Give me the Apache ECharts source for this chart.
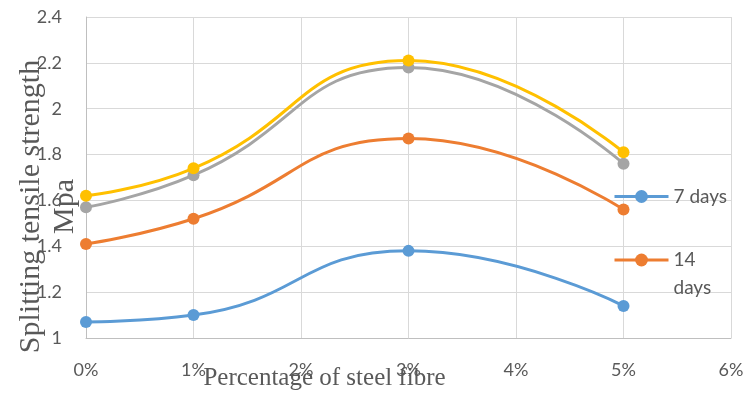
<!DOCTYPE html>
<html>
<head>
<meta charset="utf-8">
<script src="https://cdn.jsdelivr.net/npm/echarts@6/dist/echarts.min.js"></script>
<style>
  html, body { margin: 0; padding: 0; background: #fff; }
  #chart { width: 748px; height: 397px; }
</style>
</head>
<body>
<div id="chart"></div>
<script>
// Steel fibre content (%) and splitting tensile strength (MPa) per curing age
const fibrePercent = [0, 1, 3, 5];
const days7  = [1.07, 1.10, 1.38, 1.14];
const days14 = [1.41, 1.52, 1.87, 1.56];
const days21 = [1.57, 1.71, 2.18, 1.76];
const days28 = [1.62, 1.74, 2.21, 1.81];
const seriesNames = ['7 days', '14 days', '21 days', '28 days'];
const seriesColors = ['#5B9BD5', '#ED7D31', '#A5A5A5', '#FFC000'];
const xTicks = { min: 0, max: 6, step: 1 };
const yTicks = { min: 1, max: 2.4, step: 0.2 };

const values = [days7, days14, days21, days28];
const textColor = '#595959';
const tickFont = 'Lato, "Open Sans", sans-serif';
const titleFont = '"Liberation Serif", "DejaVu Serif", serif';

const series = values.map((vals, i) => ({
  name: seriesNames[i],
  type: 'line',
  smooth: 0.5,
  data: fibrePercent.map((x, j) => [x, vals[j]]),
  symbol: 'circle',
  symbolSize: 12,
  lineStyle: { width: 3, color: seriesColors[i] },
  itemStyle: { color: seriesColors[i] },
  z: 2 + i
}));

const legendBase = {
  left: 613, padding: 0,
  itemWidth: 54, itemHeight: 16, itemGap: 12,
  lineStyle: { width: 3 }
};

const chart = echarts.init(document.getElementById('chart'), null, { renderer: 'canvas' });
chart.setOption({
  animation: false,
  backgroundColor: '#ffffff',
  grid: { left: 86, right: 17, top: 17, bottom: 59, containLabel: false, outerBoundsMode: 'none' },
  xAxis: {
    type: 'value',
    min: xTicks.min, max: xTicks.max, interval: xTicks.step,
    name: 'Percentage of steel fibre',
    nameLocation: 'middle',
    nameGap: 28,
    nameMoveOverlap: false,
    nameTextStyle: {
      fontFamily: titleFont, fontSize: 25, color: textColor,
      padding: [0, 168, 0, 0]
    },
    axisLine: { show: true, lineStyle: { color: '#BFBFBF', width: 1 } },
    axisTick: { show: false },
    splitLine: { show: true, lineStyle: { color: '#D9D9D9', width: 1 } },
    axisLabel: {
      color: textColor, fontFamily: tickFont, fontSize: 18, margin: 23,
      formatter: v => v + '%'
    }
  },
  yAxis: {
    type: 'value',
    min: yTicks.min, max: yTicks.max, interval: yTicks.step,
    name: 'Splitting tensile strength\nMpa',
    nameLocation: 'middle',
    nameGap: 4,
    nameMoveOverlap: false,
    nameRotate: 90,
    nameTextStyle: {
      fontFamily: titleFont, fontSize: 30, color: textColor, lineHeight: 34,
      padding: [0, 58, 0, 0]
    },
    axisLine: { show: true, lineStyle: { color: '#BFBFBF', width: 1 } },
    axisTick: { show: false },
    splitLine: { show: true, lineStyle: { color: '#D9D9D9', width: 1 } },
    axisLabel: {
      color: textColor, fontFamily: tickFont, fontSize: 18, margin: 24,
      formatter: v => String(+v.toFixed(1))
    }
  },
  legend: [
    Object.assign({}, legendBase, {
      data: [seriesNames[0]],
      top: 187,
      textStyle: { color: textColor, fontFamily: tickFont, fontSize: 19 }
    }),
    Object.assign({}, legendBase, {
      data: [seriesNames[1]],
      top: 218,
      // first line of the wrapped label sits level with the icon
      formatter: name => '\n' + name.replace(' ', '\n'),
      textStyle: { color: textColor, fontFamily: tickFont, fontSize: 19, lineHeight: 28 }
    })
  ],
  series: series
});
</script>
</body>
</html>
